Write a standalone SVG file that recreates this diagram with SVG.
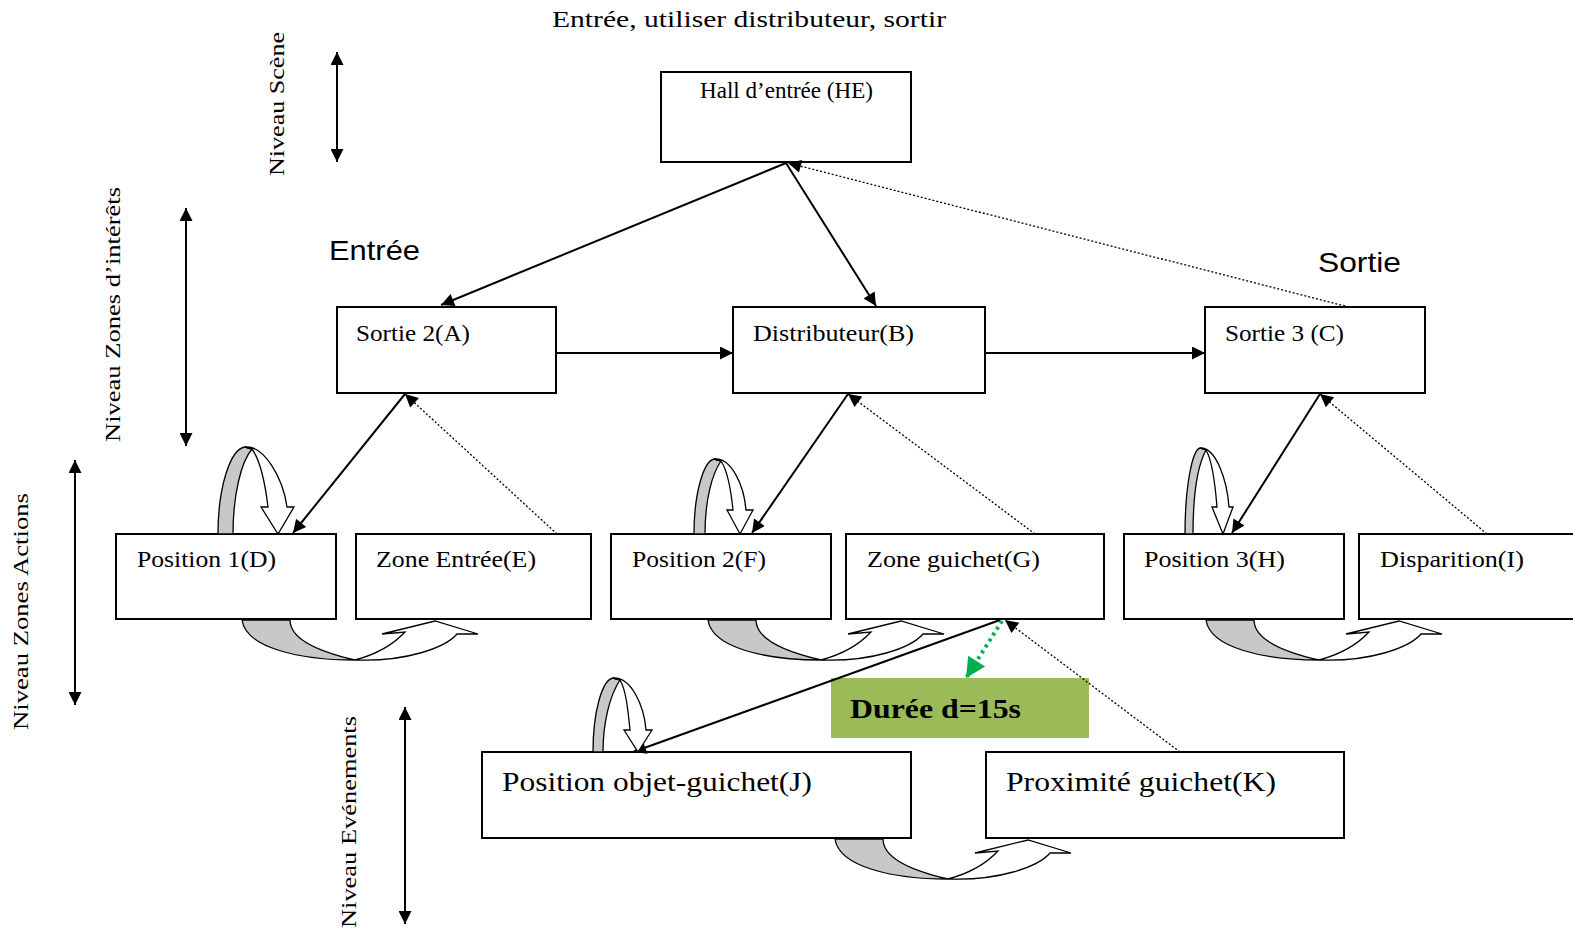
<svg xmlns="http://www.w3.org/2000/svg" width="1573" height="932" viewBox="0 0 1573 932">
<style>
.box{fill:#fff;stroke:#000;stroke-width:2}
.t{font-family:"Liberation Serif",serif;font-size:23px;fill:#000}
.tb{font-family:"Liberation Serif",serif;font-size:28px;fill:#000}
.s{font-family:"Liberation Sans",sans-serif;font-size:28px;fill:#000}
.lv{font-family:"Liberation Serif",serif;font-size:22px;fill:#000}
.ln{stroke:#000;stroke-width:2;fill:none}
.dt{stroke:#000;stroke-width:1.3;stroke-dasharray:2,2;fill:none}
.gy{fill:#c8c8c8;stroke:#000;stroke-width:1.3}
.wh{fill:#fff;stroke:#000;stroke-width:1.3}
</style>
<defs>
<marker id="ah" viewBox="0 0 10 10" refX="10" refY="5" markerWidth="17" markerHeight="13" markerUnits="userSpaceOnUse" orient="auto-start-reverse"><path d="M0,0 L10,5 L0,10 z" fill="#000"/></marker>
<marker id="ag" viewBox="0 0 10 10" refX="10" refY="5" markerWidth="22" markerHeight="20" markerUnits="userSpaceOnUse" orient="auto"><path d="M0,0 L10,5 L0,10 z" fill="#00b050"/></marker>
<g id="ua">
<path class="gy" d="M242,620 C246,648 300,660 355,660 C320,652 290,640 290,620 Z"/>
<path class="wh" d="M355,660 C405,662 445,648 457,634 L478,634 L435,621 L382,634 L405,632 C390,648 370,656 355,660 Z"/>
</g>
</defs>
<rect width="1573" height="932" fill="#fff"/>

<text class="t" x="552" y="27" font-size="24" textLength="394" lengthAdjust="spacingAndGlyphs">Entrée, utiliser distributeur, sortir</text>
<text class="s" x="329" y="260" textLength="91" lengthAdjust="spacingAndGlyphs">Entrée</text>
<text class="s" x="1318" y="272" textLength="83" lengthAdjust="spacingAndGlyphs">Sortie</text>

<g id="levels">
<text class="lv" transform="translate(284,176) rotate(-90)" textLength="144" lengthAdjust="spacingAndGlyphs">Niveau Scène</text>
<line class="ln" x1="337" y1="52" x2="337" y2="162" marker-start="url(#ah)" marker-end="url(#ah)"/>
<text class="lv" transform="translate(120,442) rotate(-90)" textLength="255" lengthAdjust="spacingAndGlyphs">Niveau Zones d’intérêts</text>
<line class="ln" x1="186" y1="208" x2="186" y2="446" marker-start="url(#ah)" marker-end="url(#ah)"/>
<text class="lv" transform="translate(28,730) rotate(-90)" textLength="237" lengthAdjust="spacingAndGlyphs">Niveau Zones Actions</text>
<line class="ln" x1="75" y1="460" x2="75" y2="705" marker-start="url(#ah)" marker-end="url(#ah)"/>
<text class="lv" transform="translate(356,928) rotate(-90)" textLength="212" lengthAdjust="spacingAndGlyphs">Niveau Evénements</text>
<line class="ln" x1="405" y1="707" x2="405" y2="924" marker-start="url(#ah)" marker-end="url(#ah)"/>
</g>

<g id="HE"><rect class="box" x="661" y="72" width="250" height="90"/><text class="t" x="700" y="98" font-size="20" textLength="173" lengthAdjust="spacingAndGlyphs">Hall d’entrée (HE)</text></g>
<g id="A"><rect class="box" x="337" y="307" width="219" height="86"/><text class="t" x="356" y="341" textLength="114" lengthAdjust="spacingAndGlyphs">Sortie 2(A)</text></g>
<g id="B"><rect class="box" x="733" y="307" width="252" height="86"/><text class="t" x="753" y="341" textLength="161" lengthAdjust="spacingAndGlyphs">Distributeur(B)</text></g>
<g id="C"><rect class="box" x="1205" y="307" width="220" height="86"/><text class="t" x="1225" y="341" textLength="119" lengthAdjust="spacingAndGlyphs">Sortie 3 (C)</text></g>
<g id="D"><rect class="box" x="116" y="534" width="220" height="85"/><text class="t" x="137" y="567" textLength="139" lengthAdjust="spacingAndGlyphs">Position 1(D)</text></g>
<g id="E"><rect class="box" x="356" y="534" width="235" height="85"/><text class="t" x="376" y="567" textLength="160" lengthAdjust="spacingAndGlyphs">Zone Entrée(E)</text></g>
<g id="F"><rect class="box" x="611" y="534" width="220" height="85"/><text class="t" x="632" y="567" textLength="134" lengthAdjust="spacingAndGlyphs">Position 2(F)</text></g>
<g id="G"><rect class="box" x="846" y="534" width="258" height="85"/><text class="t" x="867" y="567" textLength="173" lengthAdjust="spacingAndGlyphs">Zone guichet(G)</text></g>
<g id="H"><rect class="box" x="1124" y="534" width="220" height="85"/><text class="t" x="1144" y="567" textLength="141" lengthAdjust="spacingAndGlyphs">Position 3(H)</text></g>
<g id="I"><rect class="box" x="1359" y="534" width="230" height="85"/><text class="t" x="1380" y="567" textLength="144" lengthAdjust="spacingAndGlyphs">Disparition(I)</text></g>
<g id="J"><rect class="box" x="482" y="752" width="429" height="86"/><text class="tb" x="502" y="791" textLength="310" lengthAdjust="spacingAndGlyphs">Position objet-guichet(J)</text></g>
<g id="K"><rect class="box" x="986" y="752" width="358" height="86"/><text class="tb" x="1006" y="791" textLength="270" lengthAdjust="spacingAndGlyphs">Proximité guichet(K)</text></g>
<g id="duree"><rect x="831" y="678" width="258" height="60" fill="#9bbb59"/><text class="tb" x="850" y="718" font-size="29" font-weight="bold" textLength="171" lengthAdjust="spacingAndGlyphs">Durée d=15s</text></g>

<g id="connectors">
<line class="ln" x1="786" y1="163" x2="441" y2="305" marker-end="url(#ah)"/>
<line class="ln" x1="786" y1="163" x2="876" y2="306" marker-end="url(#ah)"/>
<line class="dt" x1="1345" y1="306" x2="788" y2="163" marker-end="url(#ah)"/>
<line class="ln" x1="557" y1="353" x2="733" y2="353" marker-end="url(#ah)"/>
<line class="ln" x1="986" y1="353" x2="1205" y2="353" marker-end="url(#ah)"/>
<line class="ln" x1="405" y1="394" x2="293" y2="533" marker-end="url(#ah)"/>
<line class="dt" x1="557" y1="534" x2="405" y2="394" marker-end="url(#ah)"/>
<line class="ln" x1="848" y1="394" x2="752" y2="533" marker-end="url(#ah)"/>
<line class="dt" x1="1035" y1="534" x2="848" y2="394" marker-end="url(#ah)"/>
<line class="ln" x1="1320" y1="394" x2="1232" y2="533" marker-end="url(#ah)"/>
<line class="dt" x1="1487" y1="534" x2="1320" y2="394" marker-end="url(#ah)"/>
<line class="ln" x1="1000" y1="620" x2="633" y2="752" marker-end="url(#ah)"/>
<line class="dt" x1="1180" y1="752" x2="1005" y2="620" marker-end="url(#ah)"/>
<line x1="1002" y1="621" x2="966" y2="678" stroke="#00b050" stroke-width="4" stroke-dasharray="3,4" marker-end="url(#ag)"/>
</g>

<g id="loops">
<path class="gy" d="M218,534 C218,488 230,449 245,447 L252,449 C241,462 233,495 233,534 Z"/>
<path class="wh" d="M245,447 C264,445 283,478 287,507 L294,507 L278,534 L261,507 L268,507 C265,482 260,460 252,449 Z"/>
<path class="gy" d="M694,534 C694,492 704,461 714,459 L721,461 C712,474 705,500 705,534 Z"/>
<path class="wh" d="M714,459 C731,457 744,485 746,510 L753,510 L740,534 L727,510 L733,510 C731,490 727,470 721,461 Z"/>
<path class="gy" d="M1185,534 C1185,488 1192,450 1200,448 L1206,450 C1198,465 1193,495 1193,534 Z"/>
<path class="wh" d="M1200,448 C1216,447 1227,480 1229,507 L1233,507 L1223,534 L1212,507 L1217,507 C1215,482 1212,460 1206,450 Z"/>
<path class="gy" d="M593,752 C593,712 602,680 613,678 L620,680 C610,695 603,722 603,752 Z"/>
<path class="wh" d="M613,678 C631,677 644,705 646,730 L652,730 L638,752 L624,730 L630,730 C628,710 626,690 620,680 Z"/>
<use href="#ua"/>
<use href="#ua" transform="translate(466,0)"/>
<use href="#ua" transform="translate(964,0)"/>
<use href="#ua" transform="translate(593,219)"/>
</g>
</svg>
